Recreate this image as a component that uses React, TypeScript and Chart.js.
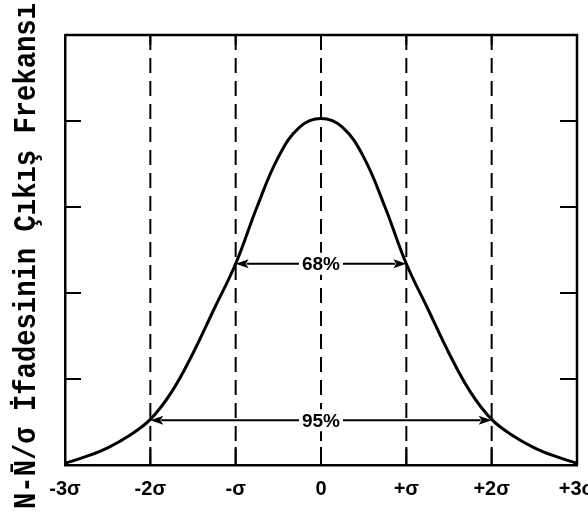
import React, { useEffect, useRef } from "react";
import { Chart, registerables } from "chart.js";

Chart.register(...registerables);

// ---- data ----
const xValues = [-3, -2.75, -2.5, -2.25, -2, -1.75, -1.5, -1.25, -1, -0.75, -0.5, -0.25, 0, 0.25, 0.5, 0.75, 1, 1.25, 1.5, 1.75, 2, 2.25, 2.5, 2.75, 3];
const frequency = [0.02, 0.1, 0.2, 0.34, 0.53, 0.85, 1.3, 1.82, 2.34, 3.0, 3.58, 3.93, 4.03, 3.93, 3.58, 3.0, 2.34, 1.82, 1.3, 0.85, 0.53, 0.34, 0.2, 0.1, 0.02];
const xTickLabels = ["-3σ", "-2σ", "-σ", "0", "+σ", "+2σ", "+3σ"];
const dashedLinePositions = [-2, -1, 0, 1, 2];
const yTickValues = [1, 2, 3, 4];
const arrowFrom = [-1, -2];
const arrowTo = [1, 2];
const arrowLevel = [2.34, 0.52];
const arrowLabels = ["68%", "95%"];
const yTitle = "N-N\u0304/σ İfadesinin Çıkış Frekansı";

const decorPlugin = {
  id: "decor",
  beforeDatasetsDraw(chart: any) {
    const { ctx, chartArea, scales } = chart;
    const { left, right, top, bottom } = chartArea;
    const xs = scales.x;
    const ys = scales.y;
    ctx.save();
    ctx.strokeStyle = "#000";
    ctx.lineWidth = 2;
    // dashed verticals
    ctx.setLineDash([15, 8]);
    dashedLinePositions.forEach((v) => {
      const x = xs.getPixelForValue(v);
      ctx.beginPath();
      ctx.moveTo(x, top);
      ctx.lineTo(x, bottom);
      ctx.stroke();
    });
    ctx.setLineDash([]);
    // solid tick marks at bottom/top
    dashedLinePositions.forEach((v) => {
      const x = xs.getPixelForValue(v);
      ctx.beginPath();
      ctx.moveTo(x, bottom);
      ctx.lineTo(x, bottom - 18);
      ctx.moveTo(x, top);
      ctx.lineTo(x, top + 10);
      ctx.stroke();
    });
    // y ticks inward, both sides
    yTickValues.forEach((v) => {
      const y = ys.getPixelForValue(v);
      ctx.beginPath();
      ctx.moveTo(left, y);
      ctx.lineTo(left + 16, y);
      ctx.moveTo(right, y);
      ctx.lineTo(right - 17, y);
      ctx.stroke();
    });
    // frame top and right
    ctx.lineWidth = 2.5;
    ctx.beginPath();
    ctx.moveTo(left, top);
    ctx.lineTo(right, top);
    ctx.lineTo(right, bottom);
    ctx.stroke();
    ctx.restore();
  },
  afterDatasetsDraw(chart: any) {
    const { ctx, scales } = chart;
    const xs = scales.x;
    const ys = scales.y;
    ctx.save();
    ctx.strokeStyle = "#000";
    ctx.fillStyle = "#000";
    ctx.lineWidth = 2;
    ctx.font = "bold 19px 'Liberation Sans', Arial, sans-serif";
    ctx.textAlign = "center";
    ctx.textBaseline = "middle";
    arrowLabels.forEach((label, i) => {
      const x1 = xs.getPixelForValue(arrowFrom[i]);
      const x2 = xs.getPixelForValue(arrowTo[i]);
      const y = ys.getPixelForValue(arrowLevel[i]);
      const cx = (x1 + x2) / 2;
      const w = ctx.measureText(label).width;
      const gap = 3;
      const head = 13;
      // white backing to interrupt the dashed line
      ctx.fillStyle = "#fff";
      ctx.fillRect(cx - w / 2 - gap, y - 11, w + gap * 2, 22);
      ctx.fillStyle = "#000";
      ctx.beginPath();
      ctx.moveTo(x1 + head - 2, y);
      ctx.lineTo(cx - w / 2 - gap, y);
      ctx.moveTo(cx + w / 2 + gap, y);
      ctx.lineTo(x2 - head + 2, y);
      ctx.stroke();
      // arrowheads
      ctx.beginPath();
      ctx.moveTo(x1, y);
      ctx.lineTo(x1 + head, y - 4.5);
      ctx.lineTo(x1 + head - 3, y);
      ctx.lineTo(x1 + head, y + 4.5);
      ctx.closePath();
      ctx.fill();
      ctx.beginPath();
      ctx.moveTo(x2, y);
      ctx.lineTo(x2 - head, y - 4.5);
      ctx.lineTo(x2 - head + 3, y);
      ctx.lineTo(x2 - head, y + 4.5);
      ctx.closePath();
      ctx.fill();
      ctx.fillText(label, cx, y + 1);
    });
    // y-axis title
    ctx.translate(35, 256);
    ctx.rotate(-Math.PI / 2);
    ctx.font = "bold 32px 'Liberation Mono', 'Courier New', monospace";
    ctx.textAlign = "center";
    ctx.textBaseline = "alphabetic";
    ctx.fillText(yTitle, 0, 0, 506);
    ctx.restore();
  },
};

export default function App() {
  const canvasRef = useRef<HTMLCanvasElement | null>(null);

  useEffect(() => {
    if (!canvasRef.current) return;
    const chart = new Chart(canvasRef.current, {
      type: "line",
      data: {
        datasets: [
          {
            data: xValues.map((x, i) => ({ x, y: frequency[i] })),
            borderColor: "#000",
            borderWidth: 3,
            pointRadius: 0,
            tension: 0.4,
            fill: false,
          },
        ],
      },
      options: {
        animation: false,
        responsive: true,
        maintainAspectRatio: false,
        layout: { padding: { left: 65, right: 11, top: 35, bottom: 0 } },
        plugins: {
          legend: { display: false },
          tooltip: { enabled: false },
        },
        scales: {
          x: {
            type: "linear",
            min: -3,
            max: 3,
            ticks: {
              stepSize: 1,
              color: "#000",
              padding: 12,
              maxRotation: 0,
              autoSkip: false,
              font: { family: "'Liberation Sans', Arial, sans-serif", size: 20, weight: "bold" },
              callback: (_v: any, i: number) => xTickLabels[i],
            },
            grid: { display: false, drawTicks: false },
            border: { display: true, color: "#000", width: 2.5 },
            afterFit: (s: any) => {
              s.height = 52;
              s.paddingLeft = 0;
              s.paddingRight = 0;
            },
          },
          y: {
            type: "linear",
            min: 0,
            max: 5,
            ticks: { display: false },
            grid: { display: false, drawTicks: false },
            border: { display: true, color: "#000", width: 2.5 },
            afterFit: (s: any) => {
              s.width = 0;
            },
          },
        },
      },
      plugins: [decorPlugin],
    } as any);
    return () => chart.destroy();
  }, []);

  return (
    <div style={{ position: "fixed", left: 0, top: 0, width: 588, height: 517, background: "#fff" }}>
      <canvas ref={canvasRef} />
    </div>
  );
}
